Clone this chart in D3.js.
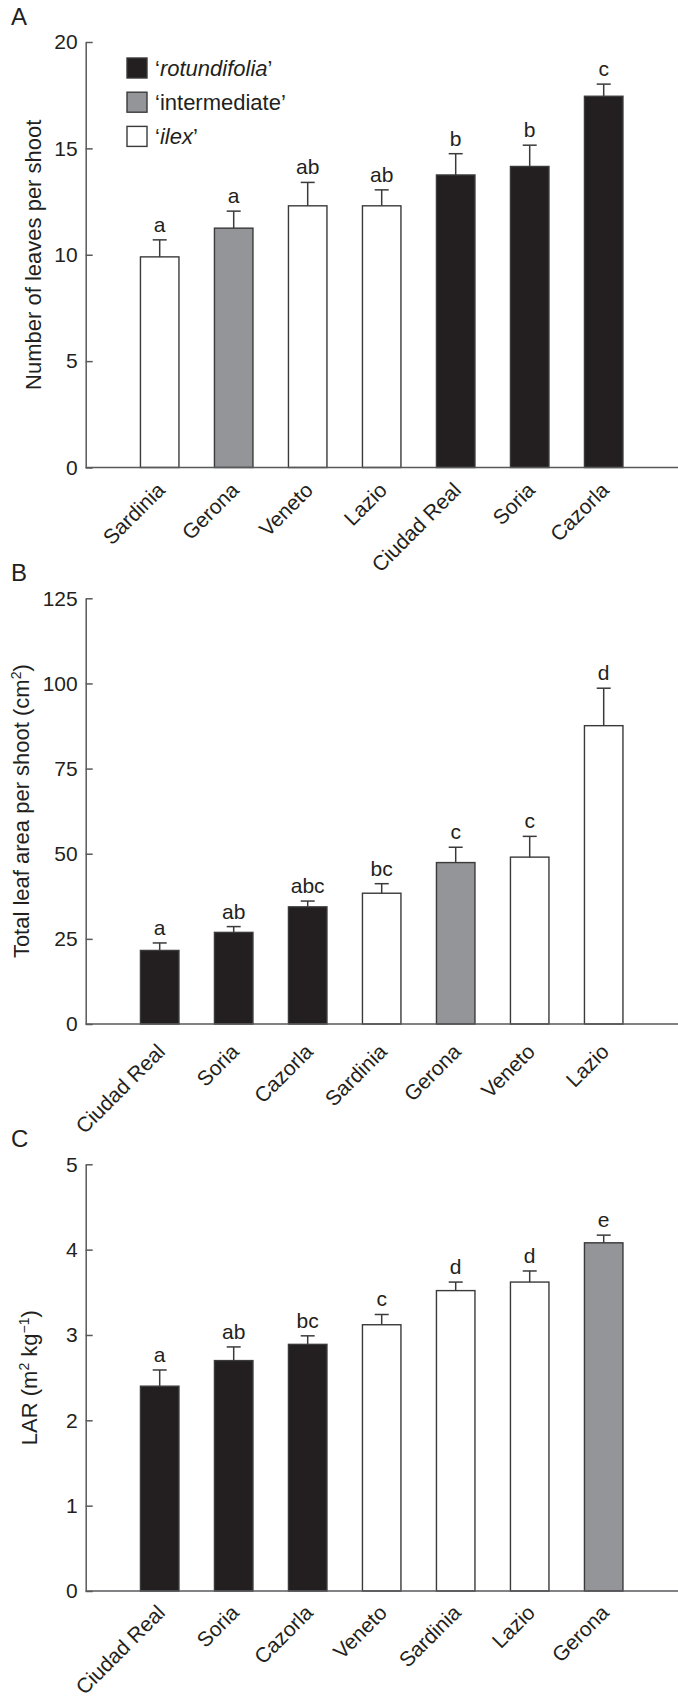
<!DOCTYPE html>
<html>
<head>
<meta charset="utf-8">
<script src="https://cdn.jsdelivr.net/npm/d3@7"></script>
<style>
  html, body { margin: 0; padding: 0; background: #fff; }
  svg { display: block; }
  text { font-family: "Liberation Sans", Arial, Helvetica, sans-serif; fill: #231f20; }
</style>
</head>
<body>
<svg id="chart" width="678" height="1699"></svg>
<script>
// ---------------- DATA ----------------
const groupOf = {
  "Sardinia": "ilex", "Veneto": "ilex", "Lazio": "ilex",
  "Gerona": "intermediate",
  "Ciudad Real": "rotundifolia", "Soria": "rotundifolia", "Cazorla": "rotundifolia"
};
const legendGroups = ["rotundifolia", "intermediate", "ilex"];

// Panel A: number of leaves per shoot
const catsA = ["Sardinia", "Gerona", "Veneto", "Lazio", "Ciudad Real", "Soria", "Cazorla"];
const leavesMean = [9.9, 11.25, 12.3, 12.3, 13.75, 14.15, 17.45];
const leavesErr = [0.8, 0.8, 1.1, 0.75, 1.0, 1.0, 0.57];
const leavesLetters = ["a", "a", "ab", "ab", "b", "b", "c"];
const ticksA = [0, 5, 10, 15, 20];

// Panel B: total leaf area per shoot (cm2)
const catsB = ["Ciudad Real", "Soria", "Cazorla", "Sardinia", "Gerona", "Veneto", "Lazio"];
const areaMean = [21.6, 26.9, 34.4, 38.4, 47.4, 49.0, 87.6];
const areaErr = [2.2, 1.7, 1.7, 2.8, 4.5, 6.1, 11.0];
const areaLetters = ["a", "ab", "abc", "bc", "c", "c", "d"];
const ticksB = [0, 25, 50, 75, 100, 125];

// Panel C: LAR (m2 kg-1)
const catsC = ["Ciudad Real", "Soria", "Cazorla", "Veneto", "Sardinia", "Lazio", "Gerona"];
const larMean = [2.40, 2.70, 2.89, 3.12, 3.52, 3.62, 4.08];
const larErr = [0.19, 0.16, 0.10, 0.12, 0.10, 0.13, 0.09];
const larLetters = ["a", "ab", "bc", "c", "d", "d", "e"];
const ticksC = [0, 1, 2, 3, 4, 5];

// ---------------- STYLE / LAYOUT ----------------
const fillOf = { rotundifolia: "#231f20", intermediate: "#939598", ilex: "#ffffff" };
const axisColor = "#58595b";
const barStroke = "#3a3a3a";
const axisX = 85.7;
const xRight = 678;
const barW = 38.5;

const panels = [
  { label: "A", labelY: 25, cats: catsA, mean: leavesMean, err: leavesErr, letters: leavesLetters,
    ticks: ticksA, max: 20, y0: 467.5, yTop: 42, titleX: 41, labDy: 24,
    title: [["Number of leaves per shoot", false]], legend: true },
  { label: "B", labelY: 581, cats: catsB, mean: areaMean, err: areaErr, letters: areaLetters,
    ticks: ticksB, max: 125, y0: 1024, yTop: 598.3, titleX: 29, labDy: 29,
    title: [["Total leaf area per shoot (cm", false], ["2", true], [")", false]] },
  { label: "C", labelY: 1147, cats: catsC, mean: larMean, err: larErr, letters: larLetters,
    ticks: ticksC, max: 5, y0: 1591, yTop: 1164.3, titleX: 37, labDy: 23,
    title: [["LAR (m", false], ["2", true], [" kg", false], ["\u22121", true], [")", false]] }
];

const svg = d3.select("#chart");

panels.forEach(p => {
  const g = svg.append("g");
  const x = d3.scalePoint().domain(p.cats).range([axisX + 74, axisX + 74 * 7]);
  const y = d3.scaleLinear().domain([0, p.max]).range([p.y0, p.yTop]);

  // panel label
  g.append("text").attr("x", 11).attr("y", p.labelY).attr("font-size", 24).text(p.label);

  // bars
  const rows = p.cats.map((c, i) => ({ c, m: p.mean[i], e: p.err[i], l: p.letters[i] }));
  g.selectAll("rect.bar").data(rows).enter().append("rect")
    .attr("class", "bar")
    .attr("x", d => x(d.c) - barW / 2)
    .attr("width", barW)
    .attr("y", d => y(d.m))
    .attr("height", d => y(0) - y(d.m))
    .attr("fill", d => fillOf[groupOf[d.c]])
    .attr("stroke", barStroke)
    .attr("stroke-width", 1.4);

  // error bars
  const eb = g.selectAll("g.eb").data(rows).enter().append("g").attr("class", "eb")
    .attr("stroke", barStroke).attr("stroke-width", 1.5);
  eb.append("line")
    .attr("x1", d => x(d.c)).attr("x2", d => x(d.c))
    .attr("y1", d => y(d.m)).attr("y2", d => y(d.m + d.e));
  eb.append("line")
    .attr("x1", d => x(d.c) - 7).attr("x2", d => x(d.c) + 7)
    .attr("y1", d => y(d.m + d.e)).attr("y2", d => y(d.m + d.e));

  // significance letters
  g.selectAll("text.sig").data(rows).enter().append("text")
    .attr("class", "sig")
    .attr("x", d => x(d.c))
    .attr("y", d => y(d.m + d.e) - 8)
    .attr("text-anchor", "middle")
    .attr("font-size", 21)
    .text(d => d.l);

  // y axis
  const ya = g.append("g").attr("transform", `translate(${axisX},0)`)
    .call(d3.axisLeft(y).tickValues(p.ticks).tickFormat(d3.format("d"))
      .tickSizeInner(-7).tickSizeOuter(0).tickPadding(8));
  ya.select(".domain").attr("stroke", axisColor).attr("stroke-width", 1.5);
  ya.selectAll(".tick line").attr("stroke", axisColor).attr("stroke-width", 1.5);
  ya.selectAll(".tick text").attr("font-size", 21).attr("fill", "#231f20")
    .attr("font-family", "Liberation Sans, Arial, sans-serif");

  // x axis
  const xa = g.append("g").attr("transform", `translate(0,${p.y0})`)
    .call(d3.axisBottom(x).tickSize(0).tickPadding(0));
  xa.select(".domain").attr("d", `M${axisX},0H${xRight}`)
    .attr("stroke", axisColor).attr("stroke-width", 1.5);
  xa.selectAll(".tick text")
    .attr("font-size", 21).attr("fill", "#231f20")
    .attr("font-family", "Liberation Sans, Arial, sans-serif")
    .attr("text-anchor", "end")
    .attr("y", 0)
    .attr("dy", 0)
    .attr("transform", `translate(6,${p.labDy}) rotate(-45)`);

  // y title
  const midY = (p.y0 + p.yTop) / 2;
  const t = g.append("text")
    .attr("transform", `translate(${p.titleX},${midY}) rotate(-90)`)
    .attr("text-anchor", "middle")
    .attr("font-size", 22);
  p.title.forEach(([s, sup]) => {
    const ts = t.append("tspan").text(s);
    if (sup) ts.attr("font-size", 14).attr("baseline-shift", "super");
  });

  // legend
  if (p.legend) {
    const lg = g.append("g");
    legendGroups.forEach((grp, i) => {
      const yy = 58 + i * 34.2;
      lg.append("rect").attr("x", 127).attr("y", yy).attr("width", 20).attr("height", 20)
        .attr("fill", fillOf[grp]).attr("stroke", barStroke).attr("stroke-width", 1.4);
      const tx = lg.append("text").attr("x", 155).attr("y", yy + 17.5).attr("font-size", 22);
      tx.append("tspan").text("\u2018");
      const word = tx.append("tspan").text(grp);
      if (grp !== "intermediate") word.attr("font-style", "italic");
      tx.append("tspan").text("\u2019");
    });
  }
});
</script>
</body>
</html>
